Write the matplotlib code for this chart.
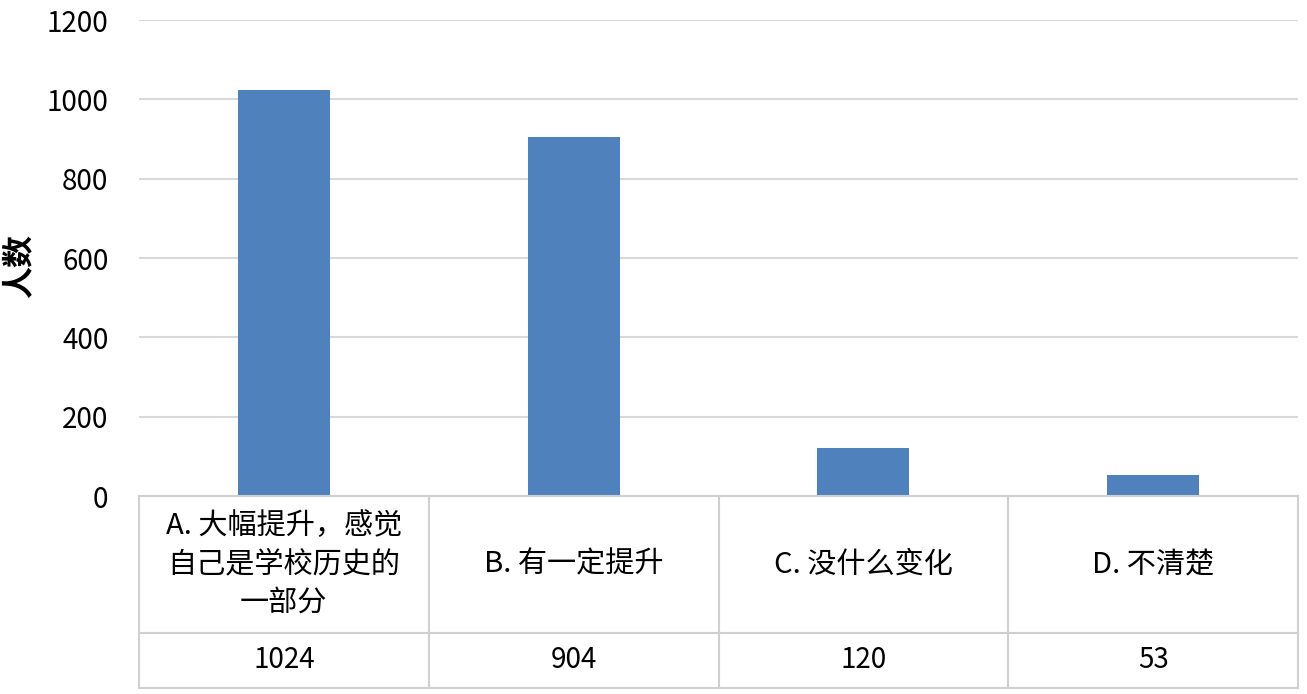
import matplotlib
matplotlib.use("Agg")
import matplotlib.pyplot as plt
import matplotlib.transforms as mtransforms

plt.rcParams['font.family'] = ['Noto Sans CJK SC', 'DejaVu Sans']

categories = ["A. 大幅提升，感觉\n自己是学校历史的\n一部分", "B. 有一定提升", "C. 没什么变化", "D. 不清楚"]
values = [1024, 904, 120, 53]
yticks = [0, 200, 400, 600, 800, 1000, 1200]
ylabel = "人数"

W, H = 1307, 694
fig = plt.figure(figsize=(W / 100, H / 100), dpi=100)
left, right, top, bottom = 139, 1298, 20, 496
ax = fig.add_axes([left / W, 1 - bottom / H, (right - left) / W, (bottom - top) / H])

bar_color = "#4f81bd"
grid_color = "#d9d9d9"
table_color = "#d0d0d0"

x = list(range(len(categories)))
ax.bar(x, values, width=0.317, color=bar_color, zorder=3)
ax.set_xlim(-0.5, len(categories) - 0.5)
ax.set_ylim(0, 1200)
ax.set_yticks(yticks)
ax.set_yticklabels([str(t) for t in yticks], fontsize=20)
ax.tick_params(axis='y', length=0, pad=22)
ax.set_xticks([])
for s in ax.spines.values():
    s.set_visible(False)
ax.grid(axis='y', color=grid_color, linewidth=1.5, zorder=0)
ax.set_axisbelow(True)

fig.text(19 / W, 1 - 266 / H, ylabel, rotation=90, fontsize=23, fontweight='bold',
         ha='center', va='center')

# data table below the axes
ax_h = bottom - top
row1 = -137 / ax_h
row2 = -192 / ax_h
trans = mtransforms.blended_transform_factory(ax.transData, ax.transAxes)
n = len(categories)
for yv in [0, row1, row2]:
    ax.plot([-0.5, n - 0.5], [yv, yv], transform=trans, color=table_color,
            linewidth=1.5, clip_on=False, zorder=4)
for xv in [i - 0.5 for i in range(n + 1)]:
    ax.plot([xv, xv], [0, row2], transform=trans, color=table_color,
            linewidth=1.5, clip_on=False, zorder=4)
for i, (c, v) in enumerate(zip(categories, values)):
    ax.text(i, row1 / 2, c, transform=trans, ha='center', va='center',
            fontsize=21, linespacing=1.35, clip_on=False)
    ax.text(i, (row1 + row2) / 2, str(v), transform=trans, ha='center', va='center',
            fontsize=20, clip_on=False)

fig.savefig("out.png", dpi=100)
